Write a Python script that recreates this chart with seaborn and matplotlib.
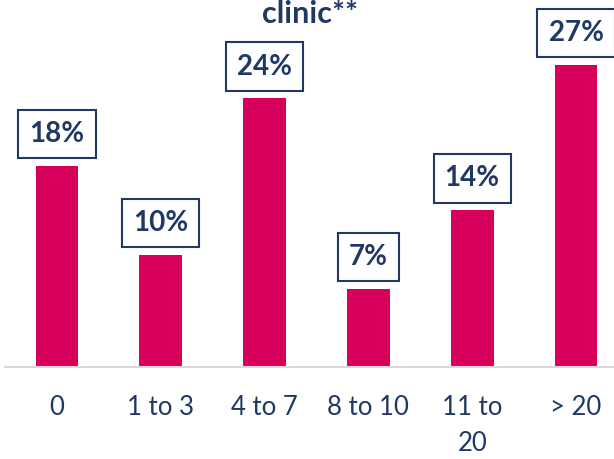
import matplotlib
matplotlib.use("Agg")
import matplotlib.pyplot as plt
import seaborn as sns
import pandas as pd

categories = ["0", "1 to 3", "4 to 7", "8 to 10", "11 to\n20", "> 20"]
values = [18, 10, 24, 7, 14, 27]
labels = ["18%", "10%", "24%", "7%", "14%", "27%"]
title = "clinic**"

sns.set_theme(style="white")
plt.rcParams['font.family'] = ['Lato', 'DejaVu Sans']

NAVY = "#1F3864"
BAR = "#D6005B"

W, H = 614, 459
fig = plt.figure(figsize=(W / 100, H / 100), dpi=100)
ax = fig.add_axes([5 / W, (H - 367) / H, 623 / W, 358 / H])

df = pd.DataFrame({"cat": categories, "val": values})
sns.barplot(data=df, x="cat", y="val", color=BAR, width=0.41, saturation=1,
            edgecolor="none", ax=ax)

ax.set_xlim(-0.5, 5.5)
ax.set_ylim(0, 32)
ax.set_xlabel("")
ax.set_ylabel("")
ax.set_yticks([])
for s in ["left", "right", "top"]:
    ax.spines[s].set_visible(False)
ax.spines["bottom"].set_color("#D9D9D9")
ax.spines["bottom"].set_linewidth(1.5)
ax.tick_params(axis="x", length=0, pad=20, labelsize=18.5, labelcolor=NAVY)
for t in ax.get_xticklabels():
    t.set_linespacing(1.55)

for i, (v, lab) in enumerate(zip(values, labels)):
    ax.annotate(lab, xy=(i, v), xytext=(0, 23), textcoords="offset points",
                ha="center", va="center", fontsize=20, fontweight="bold",
                color=NAVY, clip_on=False,
                bbox=dict(boxstyle="square,pad=0.4", fc="white", ec=NAVY, lw=1.5))

fig.text(310 / W, (H - 23) / H, title, ha="center", va="baseline",
         fontsize=22, fontweight="bold", color=NAVY)

fig.savefig("out.png", dpi=100)
